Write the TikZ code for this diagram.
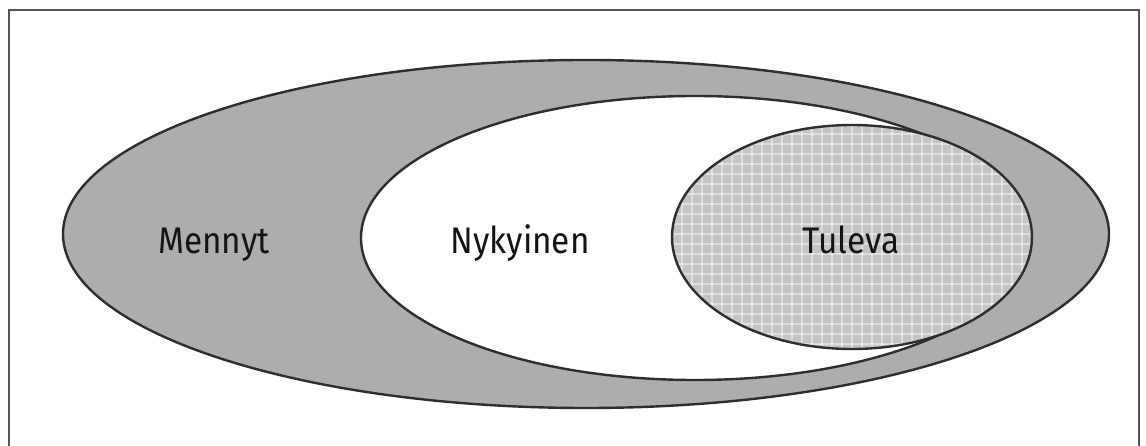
\documentclass[tikz,border=0pt]{standalone}
\usepackage{fontspec}
\setsansfont[FakeStretch=0.9]{Fira Sans}
\usetikzlibrary{shapes.geometric}
\definecolor{bandgray}{HTML}{ADADAD}
\definecolor{futgray}{HTML}{C4C4C4}
\definecolor{edge}{HTML}{2E2E2E}
\definecolor{framec}{HTML}{555555}
\begin{document}
\begin{tikzpicture}[x=1pt,y=-1pt,
  region/.style={ellipse, draw=edge, line width=2.4pt, inner sep=0pt},
  lbl/.style={font=\sffamily\fontsize{37}{40}\selectfont, text=black!92, inner sep=0pt, anchor=base}]
\useasboundingbox (0,0) rectangle (1146,446);
% frame (open at bottom)
\draw[framec, line width=1.3pt] (9,446) -- (9,10) -- (1139,10) -- (1139,446);
% outer ellipse
\node[region, fill=bandgray, minimum width=1046pt, minimum height=348pt] (past) at (586,234) {};
% middle ellipse
\node[region, fill=white, minimum width=668pt, minimum height=284pt] (now) at (695,238) {};
% inner ellipse fill with grid
\node[ellipse, fill=futgray, inner sep=0pt, minimum width=360pt, minimum height=224pt] (futfill) at (852,237) {};
\begin{scope}
  \clip (852,237) ellipse [x radius=180, y radius=112];
  \foreach \i in {0,...,37} {
    \draw[white, line width=2pt, opacity=0.45] (672+10*\i,120) -- (672+10*\i,354);
  }
  \foreach \j in {0,...,24} {
    \draw[white, line width=2pt, opacity=0.45] (668,124+10*\j) -- (1036,124+10*\j);
  }
\end{scope}
\node[region, minimum width=360pt, minimum height=224pt] (future) at (852,237) {};
% labels
\node[lbl] (tpast) at (214,254) {Mennyt};
\node[lbl] (tnow) at (520,254) {Nykyinen};
\node[lbl] (tfut) at (851,254) {Tuleva};
\end{tikzpicture}
\end{document}
